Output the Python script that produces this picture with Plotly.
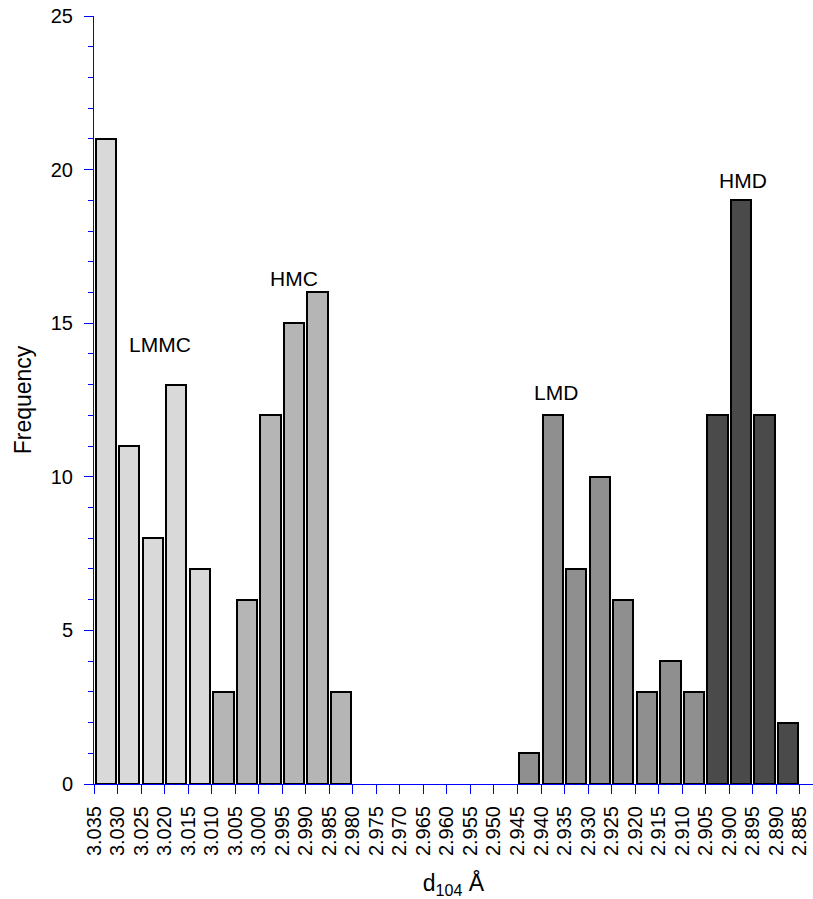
import plotly.graph_objects as go

# Upper edge of each d104 bin (Å), bins are 0.005 Å wide, axis runs high -> low
bin_upper = [3.035, 3.030, 3.025, 3.020, 3.015, 3.010, 3.005, 3.000, 2.995, 2.990,
             2.985, 2.980, 2.975, 2.970, 2.965, 2.960, 2.955, 2.950, 2.945, 2.940,
             2.935, 2.930, 2.925, 2.920, 2.915, 2.910, 2.905, 2.900, 2.895, 2.890]
counts = [21, 11, 8, 13, 7, 3, 6, 12, 15, 16,
          3, 0, 0, 0, 0, 0, 0, 0, 1, 12,
          7, 10, 6, 3, 4, 3, 12, 19, 12, 2]
groups = ["LMMC"] * 5 + ["HMC"] * 6 + ["none"] * 7 + ["LMD"] * 8 + ["HMD"] * 4

group_names = ["LMMC", "HMC", "LMD", "HMD"]
group_colors = ["#d9d9d9", "#b5b5b5", "#8f8f8f", "#4a4a4a"]

tick_labels = ["3.035", "3.030", "3.025", "3.020", "3.015", "3.010", "3.005", "3.000",
               "2.995", "2.990", "2.985", "2.980", "2.975", "2.970", "2.965", "2.960",
               "2.955", "2.950", "2.945", "2.940", "2.935", "2.930", "2.925", "2.920",
               "2.915", "2.910", "2.905", "2.900", "2.895", "2.890", "2.885"]

label_text = ["LMMC", "HMC", "LMD", "HMD"]
label_x = [3.0209, 2.9926, 2.9368, 2.8971]
label_y = [14.3, 16.45, 12.75, 19.65]

BIN = 0.005
FONT = "Liberation Sans, Arial, Helvetica, sans-serif"

fig = go.Figure()
for name, color in zip(group_names, group_colors):
    xs = [u - BIN / 2 for u, g in zip(bin_upper, groups) if g == name]
    ys = [c for c, g in zip(counts, groups) if g == name]
    fig.add_trace(go.Bar(
        x=xs, y=ys, width=0.0043, name=name,
        marker=dict(color=color, line=dict(color="black", width=2)),
        showlegend=False,
    ))

for t, x, y in zip(label_text, label_x, label_y):
    fig.add_annotation(x=x, y=y, text=t, showarrow=False,
                       font=dict(family=FONT, size=21, color="black"))

fig.update_layout(
    width=813, height=899,
    margin=dict(l=94, r=0, t=16, b=115),
    paper_bgcolor="white", plot_bgcolor="white",
    font=dict(family=FONT, size=20, color="black"),
    bargap=0,
)
fig.update_xaxes(
    range=[3.035, 2.8822],
    tickvals=[float(v) for v in tick_labels],
    ticktext=tick_labels,
    tickangle=-90,
    ticks="outside", ticklen=9, tickcolor="blue", tickwidth=1,
    ticklabelstandoff=4,
    showline=True, linecolor="blue", linewidth=1,
    showgrid=False, zeroline=False,
    tickfont=dict(size=20),
    title=dict(text="d<sub>104</sub> Å", font=dict(size=23), standoff=20),
)
fig.update_yaxes(
    range=[0, 25],
    tickvals=[0, 5, 10, 15, 20, 25],
    ticks="outside", ticklen=9, tickcolor="blue", tickwidth=1,
    ticklabelstandoff=7,
    minor=dict(dtick=1, ticks="outside", ticklen=5, tickcolor="blue", tickwidth=1, showgrid=False),
    showline=True, linecolor="blue", linewidth=1,
    showgrid=False, zeroline=False,
    tickfont=dict(size=20),
    title=dict(text="Frequency", font=dict(size=23), standoff=12),
)

fig.write_html("out.html")
